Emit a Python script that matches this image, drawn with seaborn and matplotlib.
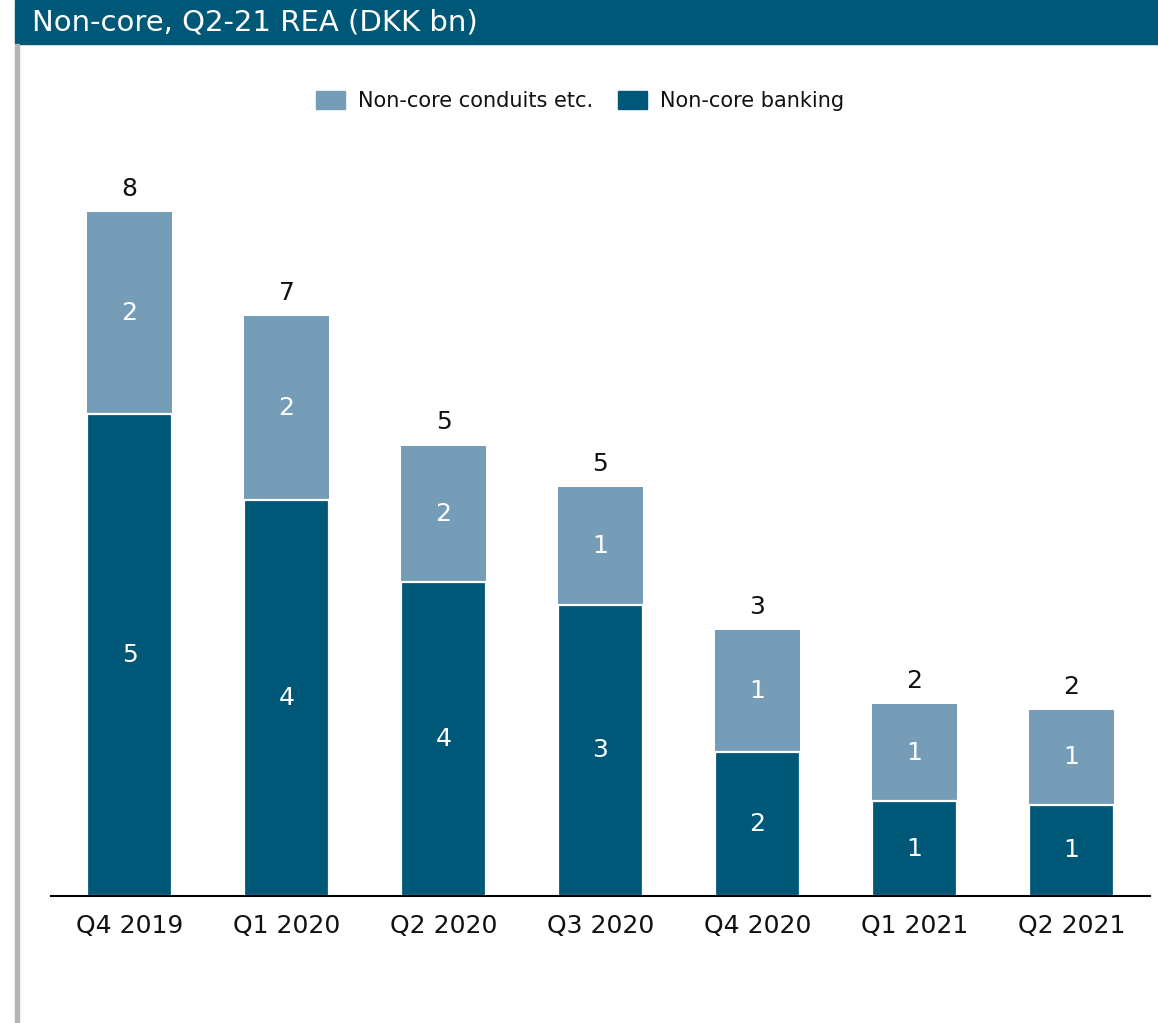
import matplotlib
matplotlib.use("Agg")
import matplotlib.pyplot as plt
import matplotlib.patches as mpatches
import seaborn as sns
import pandas as pd
import numpy as np

categories = ["Q4 2019", "Q1 2020", "Q2 2020", "Q3 2020", "Q4 2020", "Q1 2021", "Q2 2021"]
banking = [5.45, 4.47, 3.55, 3.29, 1.63, 1.07, 1.03]
conduits = [2.28, 2.08, 1.54, 1.33, 1.38, 1.10, 1.07]
title = "Non-core, Q2-21 REA (DKK bn)"
series_names = ["Non-core conduits etc.", "Non-core banking"]

DARK = "#005878"
LIGHT = "#769DB7"

sns.set_theme(style="white")
plt.rcParams['font.family'] = ['DejaVu Sans']

df = pd.DataFrame({"quarter": categories, "banking": banking, "conduits": conduits})
df["total"] = df["banking"] + df["conduits"]

fig = plt.figure(figsize=(11.58, 10.23), dpi=100)
ax = fig.add_axes([51/1158, 1 - 896/1023, (1150 - 51)/1158, (896 - 99.5)/1023])

sns.barplot(data=df, x="quarter", y="total", color=LIGHT, width=0.54, ax=ax,
            saturation=1, linewidth=0)
sns.barplot(data=df, x="quarter", y="banking", color=DARK, width=0.54, ax=ax,
            saturation=1, edgecolor="white", linewidth=1.6)

ax.set_ylim(0, 9)
ax.set_xlim(-0.5, len(categories) - 0.5)
ax.set_xlabel("")
ax.set_ylabel("")
ax.set_yticks([])
for s in ["top", "right", "left"]:
    ax.spines[s].set_visible(False)
ax.spines["bottom"].set_color("black")
ax.spines["bottom"].set_linewidth(1.5)
ax.spines["bottom"].set_zorder(5)
ax.tick_params(axis="x", length=0, labelsize=18, pad=13, colors="#111111")

for i in range(len(categories)):
    b = banking[i]
    c = conduits[i]
    ax.text(i, b / 2, f"{round(b):d}", ha="center", va="center", color="white", fontsize=18)
    ax.text(i, b + c / 2, f"{round(c):d}", ha="center", va="center", color="white", fontsize=18)
    ax.annotate(f"{round(b + c):d}", (i, b + c), xytext=(0, 8), textcoords="offset points",
                ha="center", va="bottom", fontsize=18, color="#111111")

handles = [mpatches.Patch(color=LIGHT, label=series_names[0]),
           mpatches.Patch(color=DARK, label=series_names[1])]
leg = fig.legend(handles=handles, loc="center", bbox_to_anchor=(580/1158, 1 - 101/1023), ncol=2,
                 frameon=False, fontsize=15, handlelength=1.4, handleheight=1.0,
                 columnspacing=1.2, handletextpad=0.6)
for t in leg.get_texts():
    t.set_color("#111111")

# title band
fig.add_artist(mpatches.Rectangle((15/1158, 1 - 44/1023), 1 - 15/1158, 44/1023,
                                  transform=fig.transFigure, color="#005878", zorder=0))
fig.text(32/1158, 1 - 22/1023, title, color="white", fontsize=21, fontweight="normal",
         va="center", ha="left")
# left gray rule
fig.add_artist(mpatches.Rectangle((15/1158, 0), 4/1158, 1 - 44/1023,
                                  transform=fig.transFigure, color="#B3B6B9", zorder=0))

fig.savefig("out.png", dpi=100)
